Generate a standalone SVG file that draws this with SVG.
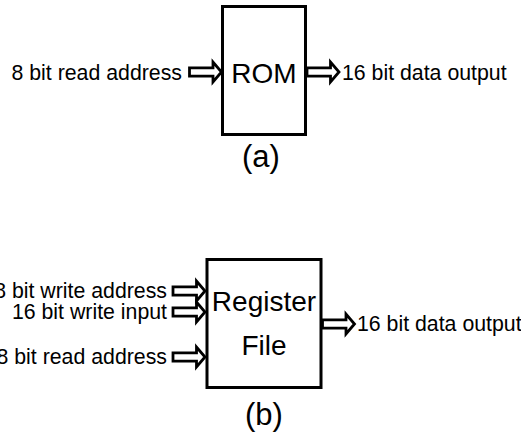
<svg xmlns="http://www.w3.org/2000/svg" width="521" height="432" viewBox="0 0 521 432">
<style>
text{font-family:"Liberation Sans",Arial,sans-serif;fill:#000}
.lbl{font-size:21.3px}
.big{font-size:28px}
.cap{font-size:31px}
.box{fill:#fff;stroke:#000;stroke-width:3}
.arr{fill:#fff;stroke:#000;stroke-width:2.8;stroke-linejoin:miter}
</style>
<defs>
<path id="ar" class="arr" d="M0,-4.2 H23.5 V-10 L32,0 L23.5,10 V4.2 H0 Z"/>
</defs>
<rect width="521" height="432" fill="#fff"/>
<g id="rom">
<rect class="box" x="222.5" y="6.5" width="83" height="128"/>
<text class="big" x="264" y="83" text-anchor="middle">ROM</text>
</g>
<g id="caption-a"><text class="cap" x="261" y="167" text-anchor="middle">(a)</text></g>
<g id="regfile">
<rect class="box" x="207" y="259.5" width="114" height="128"/>
<text class="big" x="264" y="311" text-anchor="middle" font-size="27">Register</text>
<text class="big" x="264" y="355" text-anchor="middle" font-size="27">File</text>
</g>
<g id="caption-b"><text class="cap" x="264" y="425" text-anchor="middle">(b)</text></g>
<g id="labels">
<text class="lbl" x="182" y="80" text-anchor="end">8 bit read address</text>
<text class="lbl" x="342" y="80">16 bit data output</text>
<text class="lbl" x="167" y="298" text-anchor="end">8 bit write address</text>
<text class="lbl" x="167" y="319" text-anchor="end">16 bit write input</text>
<text class="lbl" x="167" y="364" text-anchor="end">8 bit read address</text>
<text class="lbl" x="357" y="331">16 bit data output</text>
</g>
<g id="connectors">
<use href="#ar" transform="translate(189.5,72)"/>
<use href="#ar" transform="translate(307,72)"/>
<use href="#ar" transform="translate(173,291)"/>
<use href="#ar" transform="translate(173,312)"/>
<use href="#ar" transform="translate(173,357)"/>
<use href="#ar" transform="translate(322.5,324)"/>
</g>
</svg>
